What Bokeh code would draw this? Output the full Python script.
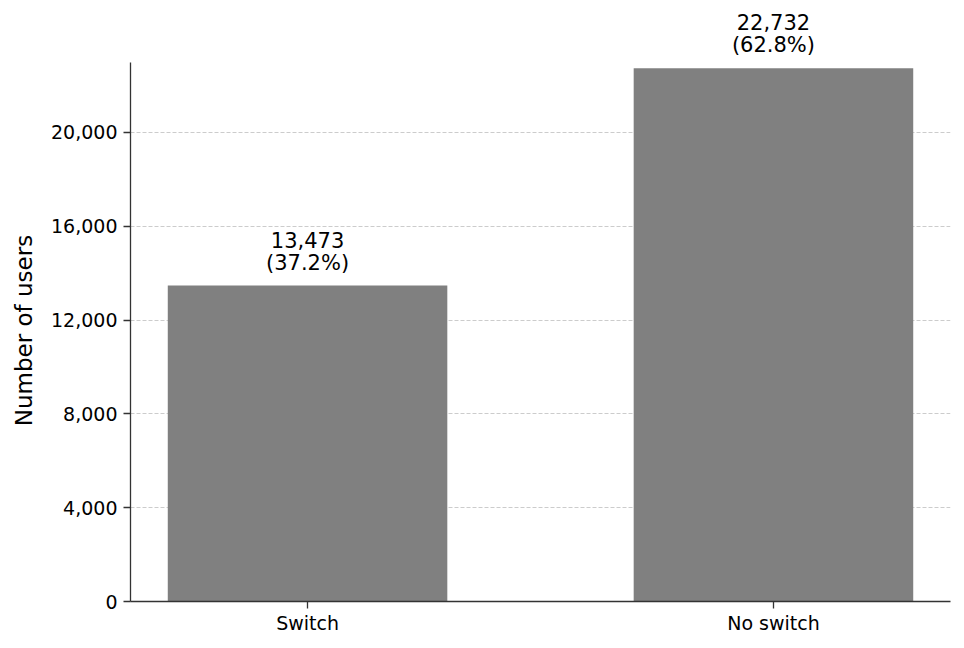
import math
from bokeh.plotting import figure
from bokeh.layouts import row
from bokeh.models import Range1d, FixedTicker, NumeralTickFormatter, ColumnDataSource, Label
from bokeh.embed import file_html
from bokeh.resources import INLINE

categories = ["Switch", "No switch"]
counts = [13473, 22732]
y_ticks = [0, 4000, 8000, 12000, 16000, 20000]
y_label = "Number of users"

total = sum(counts)
xs = list(range(len(categories)))
count_labels = [f"{c:,}" for c in counts]
pct_labels = [f"({c / total * 100:.1f}%)" for c in counts]

src = ColumnDataSource(dict(x=xs, top=counts))

FONT = "DejaVu Sans"
H = 640
LW = 40

# axis visible up to y_axis_top; frame extends higher so labels above the tallest bar are not clipped
y_axis_top = max(counts) * 1.011
y_view_top = y_axis_top * 596 / 539

p = figure(width=956 - LW, height=H, output_backend="svg", toolbar_location=None,
           x_range=Range1d(-0.38, 1.38), y_range=Range1d(0, y_view_top),
           min_border_left=130 - LW, min_border_right=6, min_border_top=5, min_border_bottom=39)

p.vbar(x="x", top="top", width=0.6, bottom=0, source=src, fill_color="#808080", line_color=None)

for x, c, t1, t2 in zip(xs, counts, count_labels, pct_labels):
    for txt, off in ((t1, 46), (t2, 23)):
        p.add_layout(Label(x=x, y=c, text=txt, text_align="center", text_baseline="middle",
                           y_offset=off, text_font=FONT, text_font_size="21px",
                           text_color="black"))

p.outline_line_color = None
p.background_fill_color = "white"
p.border_fill_color = "white"

p.xgrid.grid_line_color = None
p.ygrid.grid_line_color = "#cccccc"
p.ygrid.grid_line_dash = "4 2"
p.ygrid.grid_line_width = 1
p.ygrid.ticker = FixedTicker(ticks=y_ticks)

p.yaxis.ticker = FixedTicker(ticks=y_ticks)
p.yaxis.bounds = (0, y_axis_top)
p.yaxis.formatter = NumeralTickFormatter(format="0,0")

p.xaxis.ticker = FixedTicker(ticks=xs)
p.xaxis.major_label_overrides = {i: c for i, c in zip(xs, categories)}

for ax in (p.xaxis, p.yaxis):
    ax.axis_line_color = "#333333"
    ax.axis_line_width = 1.3
    ax.major_tick_line_color = "#333333"
    ax.major_tick_line_width = 1.3
    ax.major_tick_out = 7
    ax.major_tick_in = 0
    ax.minor_tick_line_color = None
    ax.major_label_text_font = FONT
    ax.major_label_text_font_size = "19px"
    ax.major_label_text_color = "black"
p.yaxis.major_label_standoff = 6
p.xaxis.major_label_standoff = 3

# narrow panel on the left holding the y-axis title, centred on the visible axis
lp = figure(width=LW, height=H, output_backend="svg", toolbar_location=None,
            x_range=Range1d(0, LW), y_range=Range1d(H, 0),
            x_axis_location=None, y_axis_location=None,
            min_border_left=0, min_border_right=0, min_border_top=0, min_border_bottom=0)
lp.grid.visible = False
lp.outline_line_color = None
lp.background_fill_color = "white"
lp.border_fill_color = "white"
lp.add_layout(Label(x=23, y=349, text=y_label, angle=math.pi / 2,
                    text_align="center", text_baseline="middle", text_font=FONT,
                    text_font_size="23px", text_color="black"))

layout = row(lp, p, spacing=0)
open("out.html", "w").write(file_html(layout, INLINE))
